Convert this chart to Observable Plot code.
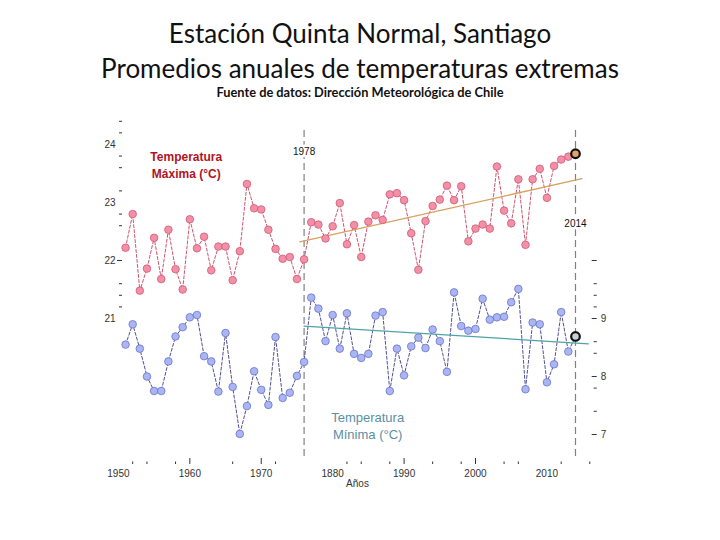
<!DOCTYPE html>
<html><head><meta charset="utf-8">
<script src="https://cdn.jsdelivr.net/npm/d3@7"></script>
<script src="https://cdn.jsdelivr.net/npm/@observablehq/plot@0.6"></script>
<style>
body{margin:0;background:#fff;width:720px;height:540px;overflow:hidden;font-family:"Liberation Sans",Arial,sans-serif;}
#head{position:relative;height:100px;}
.t{position:absolute;left:0;width:720px;text-align:center;color:#111;white-space:nowrap;}
.big{font-family:Lato,"Liberation Sans",sans-serif;font-size:26px;line-height:34px;}
#chart svg{display:block;}
</style></head><body>
<div id="head">
<div class="t big" style="top:16px;">Estación Quinta Normal, Santiago</div>
<div class="t big" style="top:51px;">Promedios anuales de temperaturas extremas</div>
<div class="t" style="top:84.5px;font-size:12.8px;line-height:14px;font-weight:bold;font-family:Lato,'Liberation Sans',sans-serif;">Fuente de datos: Dirección Meteorológica de Chile</div>
</div>
<div id="chart"></div>
<script>
// ---- data ----
const years = [1951,1952,1953,1954,1955,1956,1957,1958,1959,1960,1961,1962,1963,1964,1965,1966,1967,1968,1969,1970,1971,1972,1973,1974,1975,1976,1977,1978,1979,1980,1981,1982,1983,1984,1985,1986,1987,1988,1989,1990,1991,1992,1993,1994,1995,1996,1997,1998,1999,2000,2001,2002,2003,2004,2005,2006,2007,2008,2009,2010,2011,2012,2013,2014];
const tMax = [22.22,22.80,21.48,21.86,22.39,21.68,22.53,21.85,21.50,22.71,22.21,22.41,21.83,22.24,22.24,21.66,22.16,23.32,22.90,22.88,22.53,22.20,22.03,22.06,21.68,22.02,22.66,22.62,22.38,22.59,22.99,22.28,22.61,22.06,22.67,22.78,22.70,23.14,23.16,23.04,22.47,21.84,22.68,22.94,23.05,23.29,23.04,23.28,22.33,22.55,22.62,22.55,23.62,22.86,22.64,23.40,22.27,23.40,23.58,23.08,23.63,23.74,23.79,23.84];
const tMin = [8.55,8.90,8.48,8.00,7.75,7.75,8.26,8.69,8.85,9.02,9.06,8.35,8.26,7.74,8.75,7.82,7.01,7.49,8.09,7.77,7.51,8.68,7.63,7.72,8.01,8.25,9.36,9.17,8.61,9.06,8.48,9.09,8.39,8.32,8.39,9.05,9.11,7.75,8.48,8.02,8.52,8.67,8.49,8.81,8.61,8.08,9.45,8.87,8.79,8.82,9.34,8.98,9.02,9.03,9.28,9.51,7.78,8.93,8.90,7.90,8.21,9.11,8.43,8.69];
const minOffset = 12; // right axis (min) = left axis (max) - 12
const trendMaxYears = [1975.4, 2014.9];
const trendMaxVals = [22.32, 23.41];
const trendMinYears = [1976, 2015.8];
const trendMinVals = [8.867, 8.564];
const guideYears = [1976, 2014];
const guideLabels = ["1978", "2014"];
const guideLabelY = [23.87, 22.63];
const guideTop = 24.24;
const xLabelYears = [1950,1960,1970,1980,1990,2000,2010];
const xTickLabels = ["1950","1960","1970","1880","1990","2000","2010"];
const xMajorTicks = [1960,1970,1990,2000];
const xMinorTicks = [1952,1954,1958,1966,1972,1982,1984,1988,1994,1998,2004,2006,2012,2016];
const leftLabels = [21,22,23,24];
const leftLongTicks = [22];
const leftMinorTicks = [24.4,24.2,23.8,23.6,23.2,22.8,22.6,21.6,21.4,21.2];
const rightLabels = [9,8,7];
const rightLongTicks = [10,9,8,7];
const rightMinorTicks = [9.6,9.4,9.2,8.6,8.4,7.8,7.4];
const seriesLabels = [
  {x: 1959.5, y: 23.655, text: "Temperatura\nMáxima (°C)", series: "max"},
  {x: 1984.9, y: 19.164, text: "Temperatura\nMínima (°C)", series: "min"}
];

// ---- build ----
const maxData = years.map((yr, i) => ({year: yr, v: tMax[i]}));
const minData = years.map((yr, i) => ({year: yr, v: tMin[i] + minOffset}));
const trendMax = trendMaxYears.map((yr, i) => ({year: yr, v: trendMaxVals[i]}));
const trendMin = trendMinYears.map((yr, i) => ({year: yr, v: trendMinVals[i] + minOffset}));
const guides = guideYears.map((yr, i) => ({year: yr, label: guideLabels[i], ly: guideLabelY[i]}));
const xLabelMap = new Map(xLabelYears.map((y, i) => [y, xTickLabels[i]]));
const last = years.length - 1;
const blank = () => "";

const chart = Plot.plot({
  width: 720, height: 410,
  marginLeft: 117.9, marginRight: 129.3, marginTop: 10, marginBottom: 52,
  style: {fontFamily: "'Liberation Sans', Arial, sans-serif", fontSize: "10px", color: "#333", background: "white"},
  x: {domain: [1950, 2016.2]},
  y: {domain: [18.586, 24.586]},
  marks: [
    Plot.ruleX(guides, {x: "year", y1: guideTop, y2: 18.586, stroke: "#808080", strokeWidth: 1.2, strokeDasharray: "7,4"}),
    Plot.text(guides, {x: "year", y: "ly", text: "label", fill: "#111", stroke: "white", strokeWidth: 5, fontSize: 10}),
    Plot.line(maxData, {x: "year", y: "v", stroke: "#c8405f", strokeWidth: 0.9, strokeDasharray: "3,2"}),
    Plot.line(minData, {x: "year", y: "v", stroke: "#3c3c88", strokeWidth: 0.9, strokeDasharray: "3,2"}),
    Plot.line(trendMax, {x: "year", y: "v", stroke: "#d9a05e", strokeWidth: 1.3}),
    Plot.line(trendMin, {x: "year", y: "v", stroke: "#4ea3a6", strokeWidth: 1.3}),
    Plot.dot(maxData.slice(0, last), {x: "year", y: "v", r: 3.8, fill: "#f48fa5", stroke: "#cc5a78", strokeWidth: 0.8}),
    Plot.dot(minData.slice(0, last), {x: "year", y: "v", r: 3.8, fill: "#aab5f3", stroke: "#6b74c9", strokeWidth: 0.8}),
    Plot.dot([maxData[last]], {x: "year", y: "v", r: 4.3, fill: "#e3a46c", stroke: "#111", strokeWidth: 2.2}),
    Plot.dot([minData[last]], {x: "year", y: "v", r: 4.3, fill: "#c9d0d8", stroke: "#111", strokeWidth: 2.2}),
    Plot.text([seriesLabels[0]], {x: "x", y: "y", text: "text", fill: "#b0141e", fontWeight: "bold", fontSize: 12, lineHeight: 1.39}),
    Plot.text([seriesLabels[1]], {x: "x", y: "y", text: "text", fill: "#5b8fa3", fontSize: 13, lineHeight: 1.35}),
    // x axis
    Plot.axisX(xMajorTicks, {tickSize: 6, tickFormat: blank, stroke: "#333"}),
    Plot.axisX(xMinorTicks, {tickSize: 2.5, dy: 3.5, tickFormat: blank, stroke: "#333"}),
    Plot.axisX(xLabelYears, {tickSize: 0, tickPadding: 11, tickFormat: d => xLabelMap.get(d), fill: "#333"}),
    Plot.text(["Años"], {frameAnchor: "bottom", dy: 28.7, dx: 2.7, text: d => d, fill: "#333"}),
    // left axis
    Plot.axisY(leftLabels, {anchor: "left", tickSize: 0, tickPadding: 7, dx: 4.1, tickFormat: d => String(d), fill: "#333"}),
    Plot.axisY(leftLongTicks, {anchor: "left", tickSize: 5, dx: 4.1, tickFormat: blank, stroke: "#333"}),
    Plot.axisY(leftMinorTicks, {anchor: "left", tickSize: 3, dx: 4.1, tickFormat: blank, stroke: "#333"}),
    // right axis
    Plot.axisY(rightLabels.map(d => d + minOffset), {anchor: "right", tickSize: 0, tickPadding: 9.5, tickFormat: d => String(d - minOffset), fill: "#333"}),
    Plot.axisY(rightLongTicks.map(d => d + minOffset), {anchor: "right", tickSize: 5, tickFormat: blank, stroke: "#333"}),
    Plot.axisY(rightMinorTicks.map(d => d + minOffset), {anchor: "right", tickSize: 3, dx: 2, tickFormat: blank, stroke: "#333"})
  ]
});
document.getElementById("chart").appendChild(chart);
</script>
</body></html>
